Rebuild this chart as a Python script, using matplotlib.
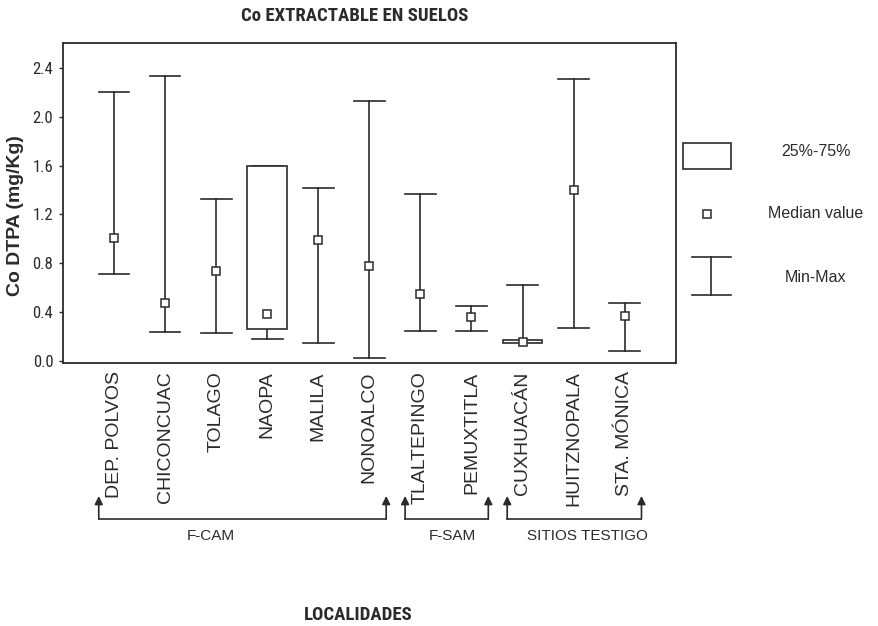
import matplotlib
matplotlib.use("Agg")
import matplotlib.pyplot as plt
import matplotlib.transforms as mtransforms
from matplotlib.patches import Rectangle
import numpy as np

# Sampling sites and Co DTPA summary statistics (mg/Kg)
sites = ["DEP. POLVOS", "CHICONCUAC", "TOLAGO", "NAOPA", "MALILA", "NONOALCO",
         "TLALTEPINGO", "PEMUXTITLA", "CUXHUACÁN", "HUITZNOPALA", "STA. MÓNICA"]
v_min = [0.71, 0.24, 0.23, 0.18, 0.15, 0.03, 0.25, 0.25, 0.16, 0.27, 0.08]
v_max = [2.20, 2.33, 1.33, 1.60, 1.42, 2.13, 1.37, 0.45, 0.62, 2.31, 0.48]
median = [1.01, 0.48, 0.74, 0.39, 0.99, 0.78, 0.55, 0.36, 0.16, 1.40, 0.37]
q25 = [np.nan, np.nan, np.nan, 0.26, np.nan, np.nan, np.nan, np.nan, 0.15, np.nan, np.nan]
q75 = [np.nan, np.nan, np.nan, 1.60, np.nan, np.nan, np.nan, np.nan, 0.17, np.nan, np.nan]

y_ticks = [0.0, 0.4, 0.8, 1.2, 1.6, 2.0, 2.4]

# Site groups: (label, first index, last index, label position)
groups = [("F-CAM", 0, 5, 1.9), ("F-SAM", 6, 7, 6.63), ("SITIOS TESTIGO", 8, 10, 9.27)]

ink = "#2b2b2b"
narrow = ["Roboto Condensed", "Liberation Sans Narrow", "Liberation Sans"]
sans = ["Liberation Sans", "DejaVu Sans"]

fig = plt.figure(figsize=(8.79, 6.26), dpi=100)
ax = fig.add_axes([0.0717, 0.420, 0.697, 0.511])

x = np.arange(len(sites))
cap = 0.30
box_half = 0.39
lw = 1.2

for xi, lo, hi, med, b0, b1 in zip(x, v_min, v_max, median, q25, q75):
    ax.plot([xi, xi], [lo, hi], color=ink, lw=lw, zorder=2)
    ax.plot([xi - cap, xi + cap], [lo, lo], color=ink, lw=lw, zorder=2)
    ax.plot([xi - cap, xi + cap], [hi, hi], color=ink, lw=lw, zorder=2)
    if not np.isnan(b0):
        ax.add_patch(Rectangle((xi - box_half, b0), 2 * box_half, b1 - b0,
                               facecolor="white", edgecolor=ink, lw=lw, zorder=3))
    ax.plot([xi], [med], marker="s", ms=6, mfc="white", mec=ink, mew=1.1, zorder=4)

ax.set_xlim(-1, len(sites))
ax.set_ylim(-0.015, 2.6)
ax.set_yticks(y_ticks)
ax.set_yticklabels([f"{t:.1f}" for t in y_ticks], family=narrow, fontsize=12, color=ink)
ax.set_xticks(x)
ax.set_xticklabels(sites, rotation=90, family=sans, fontsize=14, color=ink,
                   va="top", ha="center")
ax.tick_params(axis="x", length=0, pad=6)
ax.tick_params(axis="y", length=3, width=1, color=ink, pad=4)
for s in ax.spines.values():
    s.set_color(ink)
    s.set_linewidth(1.3)

ax.set_ylabel("Co DTPA (mg/Kg)", family=sans, fontsize=14, fontweight="bold",
              color=ink, va="center")
ax.yaxis.set_label_coords(-0.078, 0.4625)

fig.text(0.404, 0.9744, "Co EXTRACTABLE EN SUELOS", family=narrow, fontsize=13.5,
         fontweight="bold", color=ink, ha="center", va="center")
fig.text(0.407, 0.0176, "LOCALIDADES", family=narrow, fontsize=13.5,
         fontweight="bold", color=ink, ha="center", va="center")

# Group brackets beneath the site labels
bt = mtransforms.blended_transform_factory(ax.transData, fig.transFigure)
y_line = (626 - 519) / 626
y_tip = (626 - 496) / 626
y_lab = (626 - 536) / 626
for name, i0, i1, xl in groups:
    left, right = i0 - 0.30, i1 + 0.33
    ax.plot([left, right], [y_line, y_line], transform=bt, color=ink, lw=lw,
            clip_on=False)
    for xe in (left, right):
        ax.annotate("", xy=(xe, y_tip), xytext=(xe, y_line), xycoords=bt, textcoords=bt,
                    arrowprops=dict(arrowstyle="-|>", color=ink, lw=lw,
                                    mutation_scale=12, shrinkA=0, shrinkB=0))
    ax.text(xl, y_lab, name, transform=bt, family=sans, fontsize=11, color=ink,
            ha="center", va="center")

# Legend key drawn to the right of the plot
lg = fig.add_axes([0, 0, 1, 1], facecolor="none")
lg.set_xlim(0, 879)
lg.set_ylim(626, 0)
lg.axis("off")
lg.add_patch(Rectangle((683, 143), 48, 26, facecolor="white", edgecolor=ink, lw=lw))
lg.plot([707], [214], marker="s", ms=6, mfc="white", mec=ink, mew=1.1)
lg.plot([711, 711], [257, 295], color=ink, lw=lw)
lg.plot([692, 731], [257, 257], color=ink, lw=lw)
lg.plot([692, 731], [295, 295], color=ink, lw=lw)
for label, yy in [("25%-75%", 151), ("Median value", 214), ("Min-Max", 277)]:
    lg.text(816, yy, label, family=sans, fontsize=11.5, color=ink,
            ha="center", va="center")

fig.savefig("out.png", dpi=100, facecolor="white")
